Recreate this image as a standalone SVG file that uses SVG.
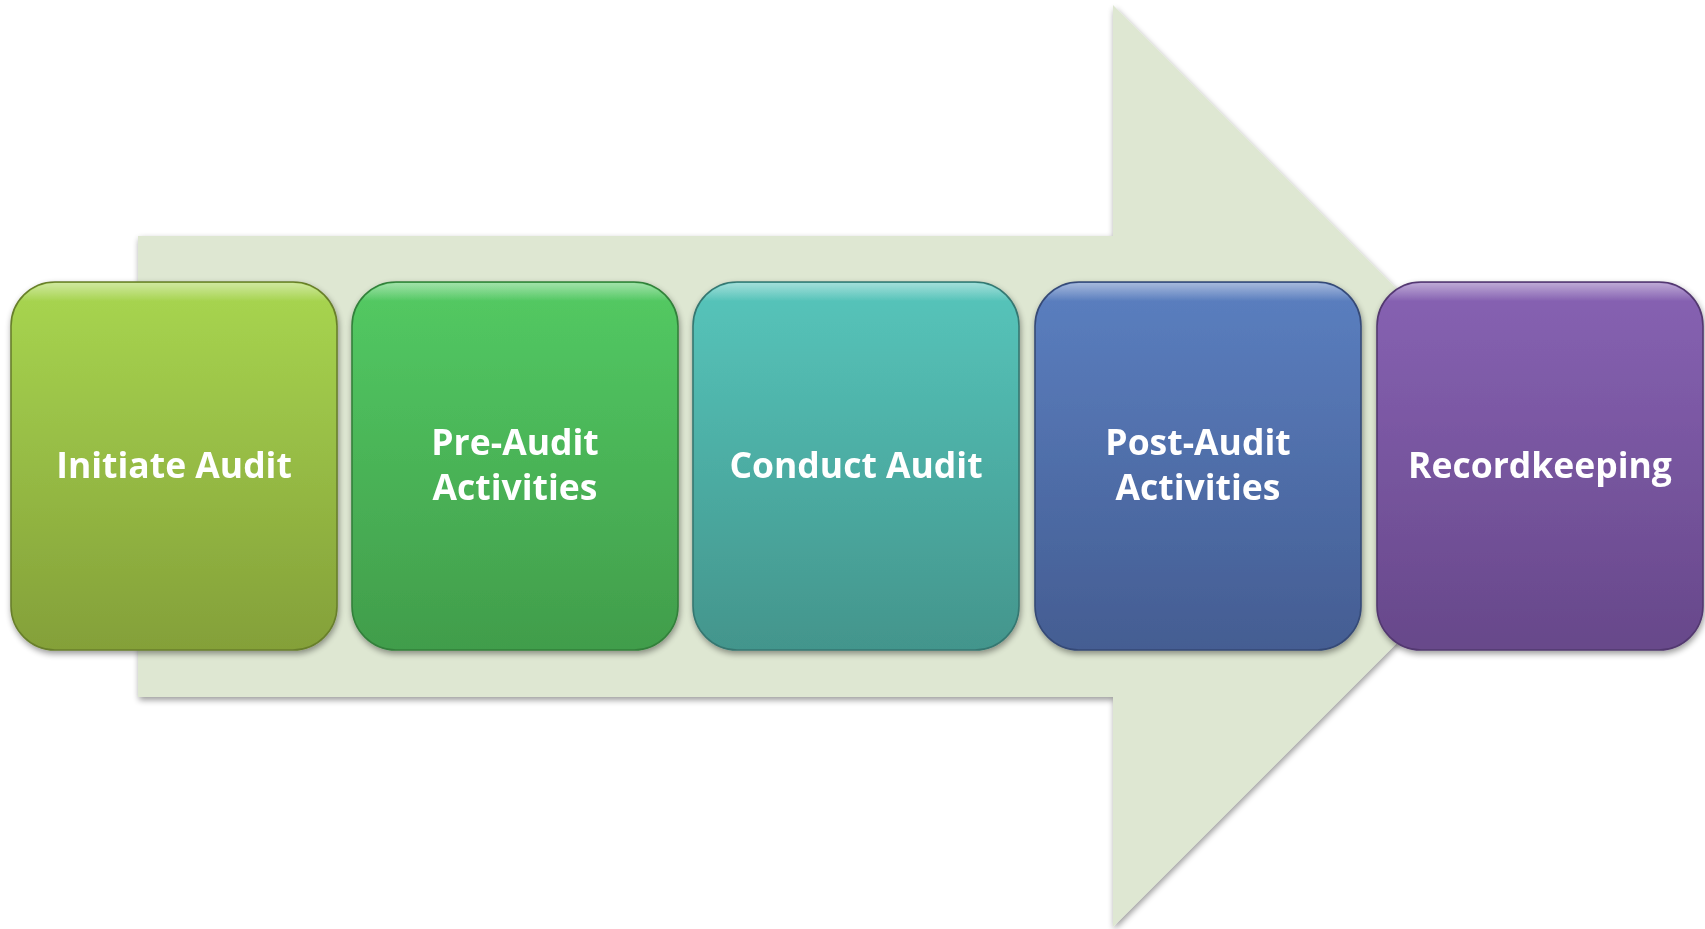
<svg xmlns="http://www.w3.org/2000/svg" width="1705" height="929" viewBox="0 0 1705 929">
<defs>
  <linearGradient id="g1" x1="0" y1="0" x2="0" y2="1"><stop offset="0" stop-color="#a8d650"/><stop offset="1" stop-color="#84a039"/></linearGradient>
  <linearGradient id="g2" x1="0" y1="0" x2="0" y2="1"><stop offset="0" stop-color="#53ca63"/><stop offset="1" stop-color="#419d4b"/></linearGradient>
  <linearGradient id="g3" x1="0" y1="0" x2="0" y2="1"><stop offset="0" stop-color="#56c5bb"/><stop offset="1" stop-color="#43958c"/></linearGradient>
  <linearGradient id="g4" x1="0" y1="0" x2="0" y2="1"><stop offset="0" stop-color="#5b7fc0"/><stop offset="1" stop-color="#445d92"/></linearGradient>
  <linearGradient id="g5" x1="0" y1="0" x2="0" y2="1"><stop offset="0" stop-color="#8762b3"/><stop offset="1" stop-color="#67488a"/></linearGradient>
  <linearGradient id="hl" x1="0" y1="0" x2="0" y2="1"><stop offset="0" stop-color="#ffffff" stop-opacity="0.45"/><stop offset="0.05" stop-color="#ffffff" stop-opacity="0"/></linearGradient>
  <filter id="sh" x="-10%" y="-10%" width="120%" height="120%">
    <feGaussianBlur in="SourceAlpha" stdDeviation="3"/>
    <feOffset dx="1" dy="3" result="b"/>
    <feComponentTransfer><feFuncA type="linear" slope="0.4"/></feComponentTransfer>
    <feMerge><feMergeNode/><feMergeNode in="SourceGraphic"/></feMerge>
  </filter>
</defs>
<style>
  .box { stroke-width: 1.6; }
  .lbl { font-family: "Open Sans", "Liberation Sans", sans-serif; font-weight: bold; font-size: 35.5px; fill: #ffffff; text-anchor: middle; }
</style>
<g id="arrow">
  <polygon points="138,236 1113,236 1113,5 1574,466 1113,927 1113,697 138,697" fill="#dee7d2" filter="url(#sh)"/>
</g>
<g id="connectors"></g>
<g id="n1" filter="url(#sh)">
  <rect class="box" x="11" y="282" width="326" height="368" rx="44" fill="url(#g1)" stroke="#687f2c"/>
  <rect x="12" y="283" width="324" height="366" rx="43" fill="url(#hl)"/>
  <text class="lbl" x="174" y="478">Initiate Audit</text>
</g>
<g id="n2" filter="url(#sh)">
  <rect class="box" x="352" y="282" width="326" height="368" rx="44" fill="url(#g2)" stroke="#33803b"/>
  <rect x="353" y="283" width="324" height="366" rx="43" fill="url(#hl)"/>
  <text class="lbl" x="515" y="455">Pre-Audit</text>
  <text class="lbl" x="515" y="500">Activities</text>
</g>
<g id="n3" filter="url(#sh)">
  <rect class="box" x="693" y="282" width="326" height="368" rx="44" fill="url(#g3)" stroke="#367771"/>
  <rect x="694" y="283" width="324" height="366" rx="43" fill="url(#hl)"/>
  <text class="lbl" x="856" y="478">Conduct Audit</text>
</g>
<g id="n4" filter="url(#sh)">
  <rect class="box" x="1035" y="282" width="326" height="368" rx="44" fill="url(#g4)" stroke="#364a76"/>
  <rect x="1036" y="283" width="324" height="366" rx="43" fill="url(#hl)"/>
  <text class="lbl" x="1198" y="455">Post-Audit</text>
  <text class="lbl" x="1198" y="500">Activities</text>
</g>
<g id="n5" filter="url(#sh)">
  <rect class="box" x="1377" y="282" width="326" height="368" rx="44" fill="url(#g5)" stroke="#52386f"/>
  <rect x="1378" y="283" width="324" height="366" rx="43" fill="url(#hl)"/>
  <text class="lbl" x="1540" y="478">Recordkeeping</text>
</g>
</svg>
